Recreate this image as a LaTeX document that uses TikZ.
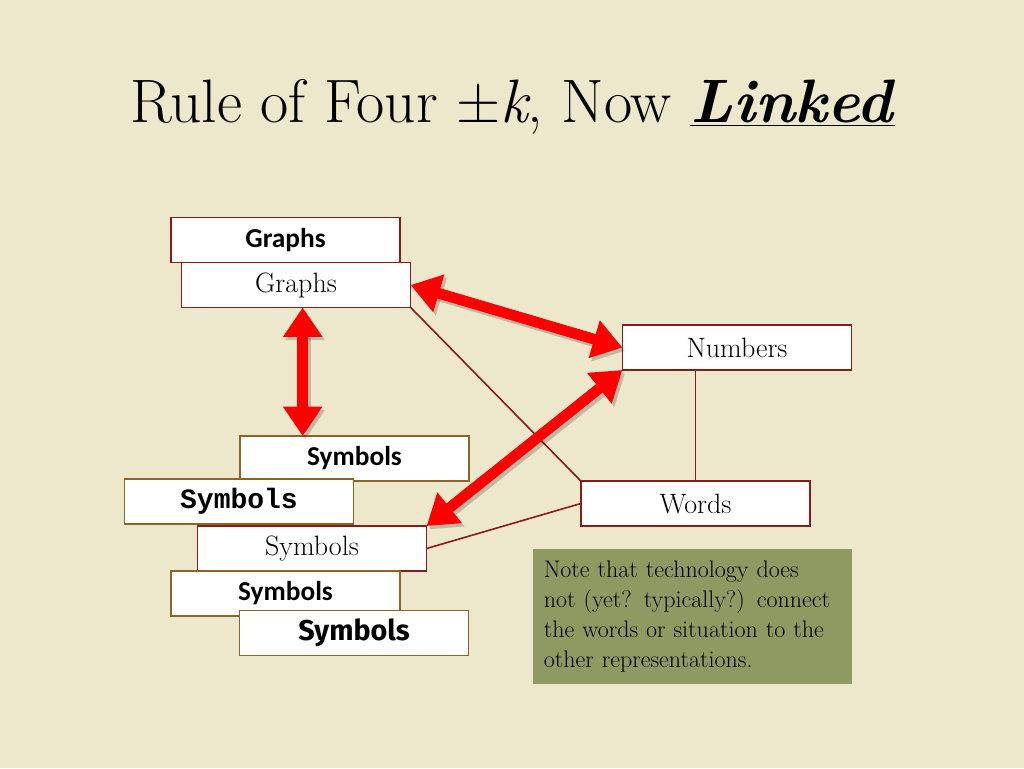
\documentclass[tikz,border=0pt]{standalone}
\usepackage{fontspec}
\usepackage{tikz}
\usetikzlibrary{arrows.meta}
\newfontfamily\calibri{Carlito}
\newfontfamily\courier{Liberation Mono}
\newfontfamily\comic{Fira Sans}
\definecolor{paper}{RGB}{237,232,204}
\definecolor{darkred}{RGB}{139,26,26}
\definecolor{ochre}{RGB}{140,100,40}
\definecolor{olive}{RGB}{143,154,98}

\begin{document}
\begin{tikzpicture}[x=0.75pt,y=-0.75pt]
\tikzstyle{box}=[rectangle,draw,line width=1.2pt,fill=white,text=black,inner sep=0pt,outer sep=0pt,minimum width=172pt,minimum height=33.75pt]
\tikzstyle{link}=[<->,red,line width=8pt,>={Triangle[length=22pt,width=28pt]}]
\tikzstyle{shade}=[link,black,opacity=0.2,transform canvas={shift={(2pt,-2.5pt)}}]
\tikzstyle{tie}=[darkred,line width=1.2pt]
% background
\fill[paper] (0,0) rectangle (1024,768);
\useasboundingbox (0,0) rectangle (1024,768);

\node (11) at (513,107) {\fontsize{46}{50}\selectfont Rule of Four ±\textit{k}, Now \underline{\textbf{\textit{Linked}}}};

\node (1) at (285.5,240) [box,draw=darkred]{\calibri\bfseries\fontsize{20.5}{22}\selectfont Graphs};
\node (2) at (296,285) [box,draw=darkred]{\fontsize{21}{22}\selectfont Graphs};

\node (3) at (737,347.5) [box,draw=darkred]{\fontsize{21}{22}\selectfont Numbers};
\node (4) at (695.5,503.5) [box,draw=darkred]{\fontsize{21}{22}\selectfont Words};

\node (5) at (354.5,458.5) [box,draw=ochre]{\calibri\bfseries\fontsize{20.5}{22}\selectfont Symbols};
\node (6) at (239,501.5) [box,draw=ochre]{\courier\bfseries\fontsize{21}{22}\selectfont Symbols};
\node (7) at (312,548.5) [box,draw=darkred]{\fontsize{21}{22}\selectfont Symbols};
\node (8) at (285.5,593.5) [box,draw=ochre]{\calibri\bfseries\fontsize{20.5}{22}\selectfont Symbols};
\node (9) at (354,633) [box,draw=ochre]{\comic\bfseries\fontsize{21.5}{22}\selectfont Symbols};

\node (10) at (692.5,616.5) [rectangle,fill=olive,text=black,minimum width=239pt,minimum height=101pt,inner sep=8pt,align=left,text width=223pt,font={\fontsize{18}{22.5}\selectfont}]{Note that technology does\\not (yet? typically?) connect\\the words or situation to the\\other representations.};

\draw[tie] (2.south east) -- (4.north west);
\draw[tie] (4.north) -- (4.north |- 3.south);
\draw[tie] (7.east) -- (4.west);

\draw[shade] (2.east) -- (3.west);
\draw[shade] ([xshift=5pt]2.south) -- ([xshift=5pt]2.south |- 5.north);
\draw[shade] (3.south west) -- (7.north east);
\draw[link] (2.east) -- (3.west);
\draw[link] ([xshift=5pt]2.south) -- ([xshift=5pt]2.south |- 5.north);
\draw[link] (3.south west) -- (7.north east);
\end{tikzpicture}
\end{document}
